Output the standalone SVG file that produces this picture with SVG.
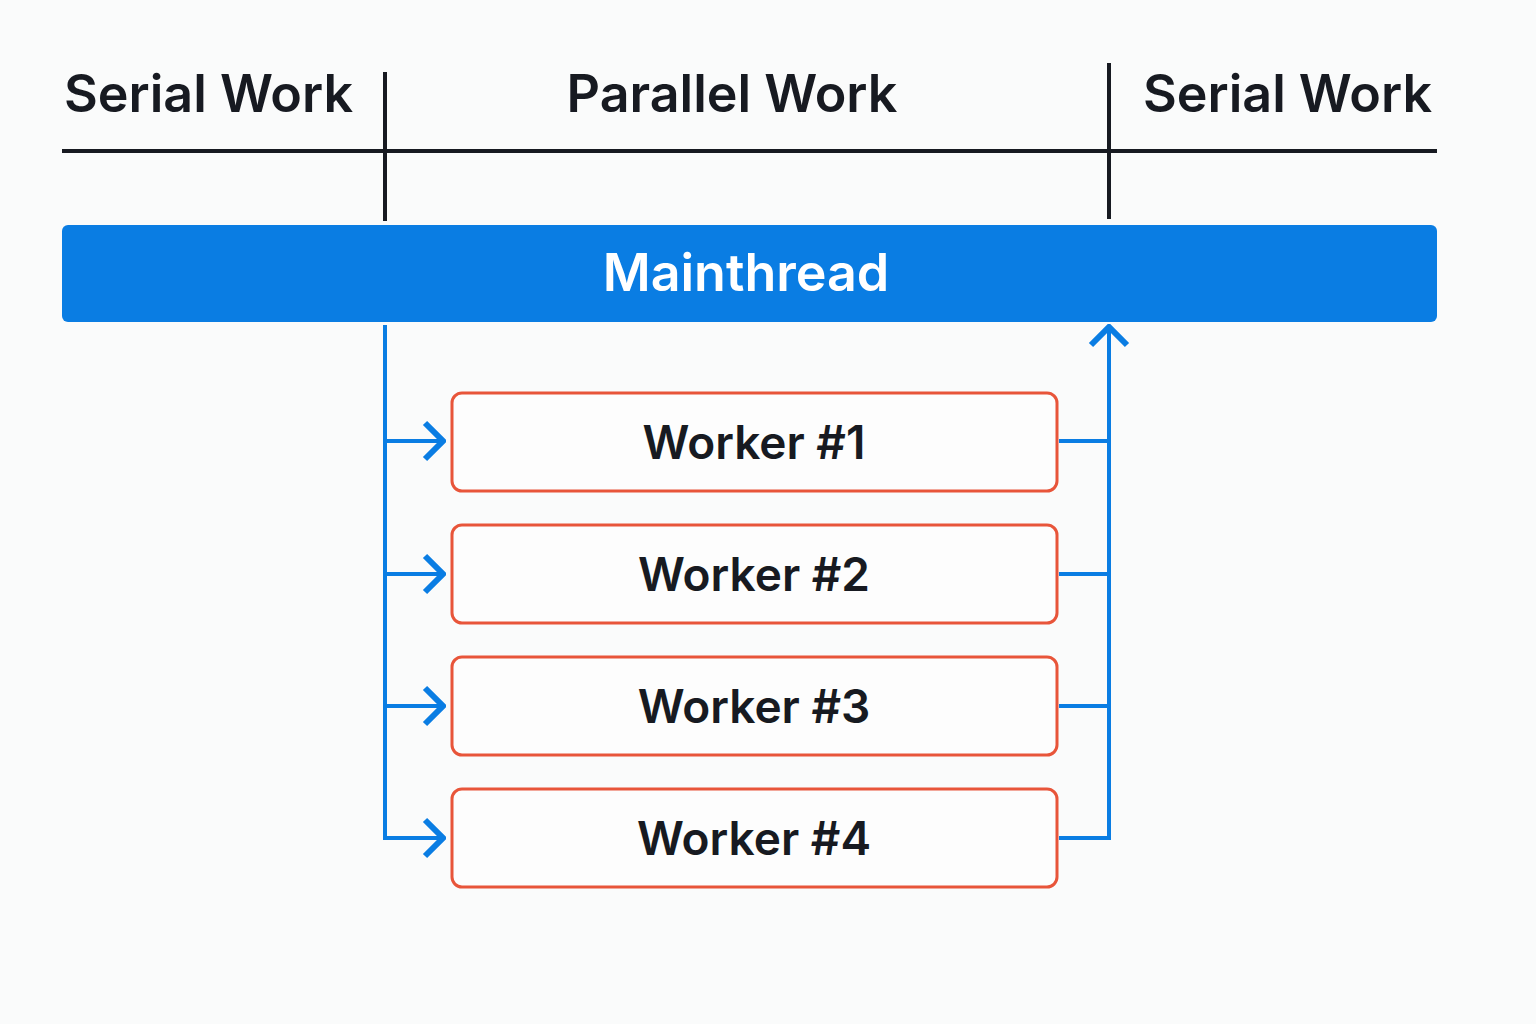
<svg xmlns="http://www.w3.org/2000/svg" width="1536" height="1024" viewBox="0 0 1536 1024">
<style>
.hdr{font-family:Inter,"Noto Sans","Liberation Sans",sans-serif;font-size:52px;font-weight:600;fill:#171a21}
.wk{font-family:Inter,"Noto Sans","Liberation Sans",sans-serif;font-size:46px;font-weight:600;fill:#171a21;text-anchor:middle}
.box{fill:#fdfdfd;stroke:#e8553a;stroke-width:3}
.blue{stroke:#0a7de3;stroke-width:4;fill:none}
.dark{stroke:#171a21;stroke-width:4;fill:none}
</style>
<defs>
<marker id="ah" viewBox="0 0 24 42" refX="22" refY="21" markerWidth="24" markerHeight="42" markerUnits="userSpaceOnUse" orient="auto">
<path d="M3,3 L21,21 L3,39" fill="none" stroke="#0a7de3" stroke-width="6"/>
</marker>
</defs>
<rect width="1536" height="1024" fill="#fafbfb"/>
<g id="header">
<text class="hdr" x="64" y="112">Serial Work</text>
<text class="hdr" x="732" y="112" text-anchor="middle">Parallel Work</text>
<text class="hdr" x="1432" y="112" text-anchor="end">Serial Work</text>
<line class="dark" x1="62" y1="151" x2="1437" y2="151"/>
<line class="dark" x1="385" y1="72" x2="385" y2="221"/>
<line class="dark" x1="1109" y1="63" x2="1109" y2="219"/>
</g>
<g id="mainthread">
<rect x="62" y="225" width="1375" height="97" rx="6" fill="#0a7de3"/>
<text x="746" y="291" font-family="Inter,'Noto Sans','Liberation Sans',sans-serif" font-size="52" font-weight="600" fill="#ffffff" text-anchor="middle">Mainthread</text>
</g>
<g id="worker1"><rect class="box" x="452" y="393" width="605" height="98" rx="10"/><text class="wk" x="754" y="459">Worker #1</text></g>
<g id="worker2"><rect class="box" x="452" y="525" width="605" height="98" rx="10"/><text class="wk" x="754" y="591">Worker #2</text></g>
<g id="worker3"><rect class="box" x="452" y="657" width="605" height="98" rx="10"/><text class="wk" x="754" y="723">Worker #3</text></g>
<g id="worker4"><rect class="box" x="452" y="789" width="605" height="98" rx="10"/><text class="wk" x="754" y="855">Worker #4</text></g>
<g id="connectors">
<path class="blue" d="M385,325 L385,838 L444,838" marker-end="url(#ah)"/>
<line class="blue" x1="385" y1="441" x2="444" y2="441" marker-end="url(#ah)"/>
<line class="blue" x1="385" y1="574" x2="444" y2="574" marker-end="url(#ah)"/>
<line class="blue" x1="385" y1="706" x2="444" y2="706" marker-end="url(#ah)"/>
<path class="blue" d="M1059,838 L1109,838 L1109,326" marker-end="url(#ah)"/>
<line class="blue" x1="1059" y1="441" x2="1109" y2="441"/>
<line class="blue" x1="1059" y1="574" x2="1109" y2="574"/>
<line class="blue" x1="1059" y1="706" x2="1109" y2="706"/>
</g>
</svg>
